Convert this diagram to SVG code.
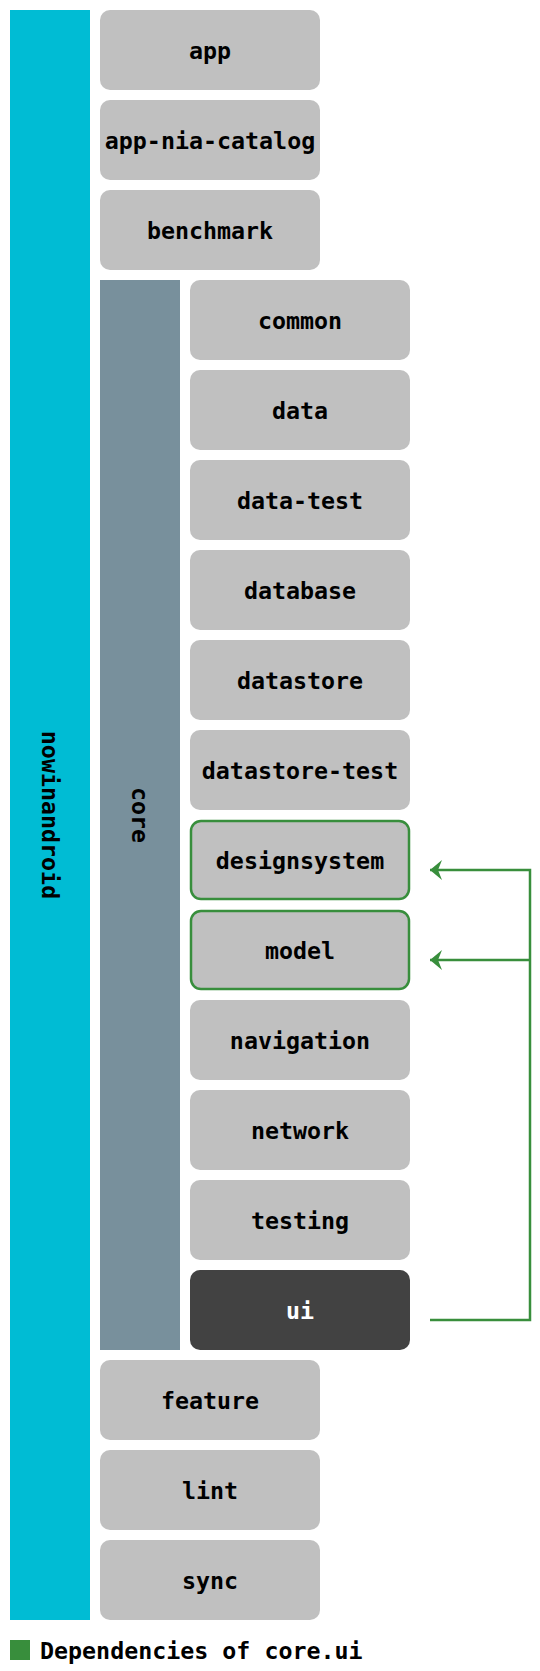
<svg xmlns="http://www.w3.org/2000/svg" width="540" height="1671" viewBox="0 0 540 1671">
<style>
.n{fill:#c0c0c0}
.dep{stroke:#388e3c;stroke-width:2.5}
.t{font-family:"DejaVu Sans Mono","Liberation Mono",monospace;font-weight:bold;font-size:23.3px;fill:#000;text-anchor:middle;dominant-baseline:central}
.w{fill:#fff}
.c{fill:none;stroke:#388e3c;stroke-width:2.5}
</style>
<defs>
<marker id="ah" markerWidth="12" markerHeight="20" refX="12" refY="10" orient="auto" markerUnits="userSpaceOnUse">
<path d="M0,0 L12,10 L0,20 L4,10 Z" fill="#388e3c"/>
</marker>
</defs>
<rect width="540" height="1671" fill="#fff"/>
<g id="nowinandroid"><rect x="10" y="10" width="80" height="1610" fill="#00bcd4"/><text class="t" transform="translate(50,815) rotate(90)" x="0" y="0">nowinandroid</text></g>
<g id="app"><rect class="n" x="100" y="10" width="220" height="80" rx="10"/><text class="t" x="210" y="50">app</text></g>
<g id="app-nia-catalog"><rect class="n" x="100" y="100" width="220" height="80" rx="10"/><text class="t" x="210" y="140">app-nia-catalog</text></g>
<g id="benchmark"><rect class="n" x="100" y="190" width="220" height="80" rx="10"/><text class="t" x="210" y="230">benchmark</text></g>
<g id="core"><rect x="100" y="280" width="80" height="1070" fill="#78909c"/><text class="t" transform="translate(140,815) rotate(90)" x="0" y="0">core</text></g>
<g id="common"><rect class="n" x="190" y="280" width="220" height="80" rx="10"/><text class="t" x="300" y="320">common</text></g>
<g id="data"><rect class="n" x="190" y="370" width="220" height="80" rx="10"/><text class="t" x="300" y="410">data</text></g>
<g id="data-test"><rect class="n" x="190" y="460" width="220" height="80" rx="10"/><text class="t" x="300" y="500">data-test</text></g>
<g id="database"><rect class="n" x="190" y="550" width="220" height="80" rx="10"/><text class="t" x="300" y="590">database</text></g>
<g id="datastore"><rect class="n" x="190" y="640" width="220" height="80" rx="10"/><text class="t" x="300" y="680">datastore</text></g>
<g id="datastore-test"><rect class="n" x="190" y="730" width="220" height="80" rx="10"/><text class="t" x="300" y="770">datastore-test</text></g>
<g id="designsystem"><rect class="n dep" x="191" y="821" width="218" height="78" rx="10"/><text class="t" x="300" y="860">designsystem</text></g>
<g id="model"><rect class="n dep" x="191" y="911" width="218" height="78" rx="10"/><text class="t" x="300" y="950">model</text></g>
<g id="navigation"><rect class="n" x="190" y="1000" width="220" height="80" rx="10"/><text class="t" x="300" y="1040">navigation</text></g>
<g id="network"><rect class="n" x="190" y="1090" width="220" height="80" rx="10"/><text class="t" x="300" y="1130">network</text></g>
<g id="testing"><rect class="n" x="190" y="1180" width="220" height="80" rx="10"/><text class="t" x="300" y="1220">testing</text></g>
<g id="ui"><rect x="190" y="1270" width="220" height="80" rx="10" fill="#424242"/><text class="t w" x="300" y="1310">ui</text></g>
<g id="feature"><rect class="n" x="100" y="1360" width="220" height="80" rx="10"/><text class="t" x="210" y="1400">feature</text></g>
<g id="lint"><rect class="n" x="100" y="1450" width="220" height="80" rx="10"/><text class="t" x="210" y="1490">lint</text></g>
<g id="sync"><rect class="n" x="100" y="1540" width="220" height="80" rx="10"/><text class="t" x="210" y="1580">sync</text></g>
<g id="connectors">
<path class="c" d="M430,1320 H530 V870 H430" marker-end="url(#ah)"/>
<path class="c" d="M530,960 H430" marker-end="url(#ah)"/>
</g>
<g id="legend"><rect x="10" y="1640" width="20" height="20" fill="#388e3c"/><text x="40" y="1650" style="font-family:'DejaVu Sans Mono','Liberation Mono',monospace;font-weight:bold;font-size:23.3px;dominant-baseline:central">Dependencies of core.ui</text></g>
</svg>
